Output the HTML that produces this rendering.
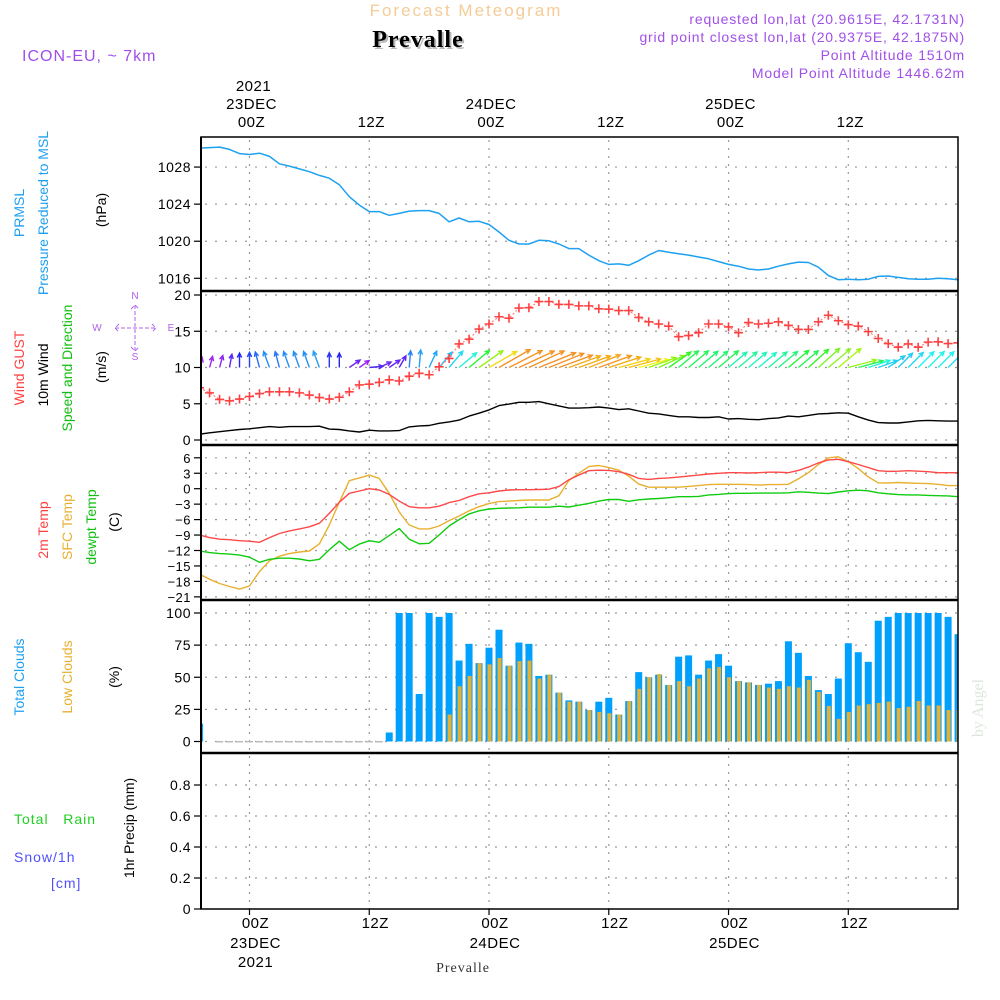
<!DOCTYPE html>
<html><head><meta charset="utf-8">
<style>
html,body{margin:0;padding:0;background:#fff;width:1000px;height:1000px;overflow:hidden}
svg{display:block}
text{font-family:"Liberation Sans",sans-serif}
</style></head>
<body>
<svg id="chart" width="1000" height="1000" viewBox="0 0 1000 1000" xmlns="http://www.w3.org/2000/svg">
  <rect width="1000" height="1000" fill="#fff"/>
  <!-- header -->
  <text x="466" y="16" text-anchor="middle" font-size="17" fill="#f4cc98" letter-spacing="2">Forecast Meteogram</text>
  <text x="420" y="49" text-anchor="middle" font-size="24" font-weight="bold" fill="#b8b8b8" style="font-family:'Liberation Serif',serif" letter-spacing="1">Prevalle</text>
  <text x="418" y="47" text-anchor="middle" font-size="24" font-weight="bold" fill="#000" style="font-family:'Liberation Serif',serif" letter-spacing="1">Prevalle</text>
  <text x="22" y="61" font-size="16" fill="#a050e8" letter-spacing="1">ICON-EU, ~ 7km</text>
  <g font-size="14" fill="#a050e8" text-anchor="end" letter-spacing="0.8">
    <text x="965" y="24">requested lon,lat (20.9615E, 42.1731N)</text>
    <text x="965" y="42">grid point closest lon,lat (20.9375E, 42.1875N)</text>
    <text x="965" y="60">Point Altitude 1510m</text>
    <text x="965" y="78">Model Point Altitude 1446.62m</text>
  </g>
  <!-- left axis titles -->
  <g font-size="14">
    <text transform="translate(24,213) rotate(-90)" text-anchor="middle" fill="#1ea0f0">PRMSL</text>
    <text transform="translate(48,213) rotate(-90)" text-anchor="middle" fill="#1ea0f0">Pressure Reduced to MSL</text>
    <text transform="translate(106,210) rotate(-90)" text-anchor="middle" fill="#000">(hPa)</text>
    <text transform="translate(24,368) rotate(-90)" text-anchor="middle" fill="#ff4040">Wind GUST</text>
    <text transform="translate(48,375) rotate(-90)" text-anchor="middle" fill="#000">10m Wind</text>
    <text transform="translate(72,368) rotate(-90)" text-anchor="middle" fill="#10c010">Speed and Direction</text>
    <text transform="translate(106,367) rotate(-90)" text-anchor="middle" fill="#000">(m/s)</text>
    <text transform="translate(48,530) rotate(-90)" text-anchor="middle" fill="#ff4040">2m Temp</text>
    <text transform="translate(72,527) rotate(-90)" text-anchor="middle" fill="#e8b030">SFC Temp</text>
    <text transform="translate(96,527) rotate(-90)" text-anchor="middle" fill="#10c010">dewpt Temp</text>
    <text transform="translate(119,522) rotate(-90)" text-anchor="middle" fill="#000">(C)</text>
    <text transform="translate(24,677) rotate(-90)" text-anchor="middle" fill="#1ea0f0">Total Clouds</text>
    <text transform="translate(72,677) rotate(-90)" text-anchor="middle" fill="#e8b030">Low Clouds</text>
    <text transform="translate(119,677) rotate(-90)" text-anchor="middle" fill="#000">(%)</text>
    <text transform="translate(134,828) rotate(-90)" text-anchor="middle" fill="#000">1hr Precip (mm)</text>
  </g>
  <text x="14" y="824" font-size="14" fill="#20d020" letter-spacing="1" xml:space="preserve">Total   Rain</text>
  <text x="14" y="862" font-size="14" fill="#5050ff" letter-spacing="1">Snow/1h</text>
  <text x="51" y="888" font-size="14" fill="#5050ff" letter-spacing="1">[cm]</text>
  <!-- compass -->
  <g fill="#b060e8" stroke="#b060e8" font-size="10">
    <text x="135" y="299" text-anchor="middle" stroke="none">N</text>
    <text x="135" y="360" text-anchor="middle" stroke="none">S</text>
    <text x="97" y="331" text-anchor="middle" stroke="none">W</text>
    <text x="171" y="331" text-anchor="middle" stroke="none">E</text>
    <path d="M115 328 H156 M135 305 V351 M119 324 L115 328 L119 332 M152 324 L156 328 L152 332 M131 309 L135 305 L139 309 M131 347 L135 351 L139 347" fill="none" stroke-width="1" stroke-dasharray="4 2"/>
  </g>
  <text transform="translate(983,708) rotate(-90)" text-anchor="middle" font-size="16" fill="#dde6dd" style="font-family:'Liberation Serif',serif">by Angel</text>
  <text x="463" y="972" text-anchor="middle" font-size="14" fill="#333" style="font-family:'Liberation Serif',serif" letter-spacing="1">Prevalle</text>
  <g id="plot"></g>
</svg>
<script>
// ---- data (hourly, starting 22DEC 19Z = hour -5 relative to 23DEC 00Z) ----
const startHour = -5;
const pressure = [1030.05,1030.1,1030.15,1029.9,1029.45,1029.35,1029.5,1029.15,1028.35,1028.1,1027.8,1027.5,1027.1,1026.8,1026.1,1024.8,1023.9,1023.2,1023.2,1022.8,1023.0,1023.25,1023.3,1023.3,1023.0,1022.1,1022.5,1022.1,1022.15,1021.8,1021.0,1020.1,1019.7,1019.7,1020.1,1020.05,1019.7,1019.2,1019.2,1018.5,1017.9,1017.5,1017.55,1017.4,1017.9,1018.5,1019.0,1018.8,1018.65,1018.5,1018.3,1018.1,1017.8,1017.5,1017.3,1017.0,1016.9,1017.0,1017.3,1017.55,1017.75,1017.7,1017.2,1016.3,1015.85,1015.9,1015.85,1015.9,1016.2,1016.25,1016.1,1015.95,1015.9,1015.9,1016.0,1015.95,1015.85];
const gust = [7.2,6.5,5.6,5.4,5.65,6.0,6.4,6.65,6.65,6.65,6.5,6.2,5.85,5.65,5.9,6.65,7.6,7.7,7.95,8.3,8.15,8.8,9.2,9.0,10.1,11.25,13.25,13.9,15.3,16.0,17.0,16.8,18.2,18.25,19.1,19.1,18.7,18.7,18.5,18.5,18.1,18.05,17.85,17.85,16.9,16.3,16.0,15.7,14.25,14.4,14.8,16.0,16.0,15.6,14.8,16.2,16.0,16.1,16.3,15.8,15.25,15.25,16.3,17.2,16.45,15.9,15.7,14.95,14.0,13.3,12.8,13.25,12.8,13.5,13.55,13.3,13.4];
const wind10 = [0.8,1.0,1.15,1.3,1.45,1.55,1.7,1.85,1.75,1.85,1.85,1.85,1.9,1.5,1.45,1.25,1.1,1.35,1.25,1.25,1.3,1.8,1.95,2.0,2.3,2.5,2.75,3.3,3.7,4.15,4.75,4.95,5.2,5.2,5.3,5.0,4.7,4.4,4.4,4.45,4.55,4.4,4.2,4.3,4.0,3.7,3.6,3.4,3.2,3.2,3.1,3.1,3.2,2.9,2.95,2.85,2.8,2.95,3.05,3.3,3.2,3.4,3.6,3.65,3.75,3.7,3.2,2.75,2.4,2.35,2.35,2.5,2.65,2.7,2.65,2.6,2.6];
const windDir = [75,75,75,80,90,90,105,110,105,110,110,110,110,90,90,35,35,5,25,35,60,85,85,65,50,50,40,40,35,30,30,27,25,25,22,22,20,20,20,22,20,18,15,15,15,20,25,35,40,40,40,40,40,40,40,40,40,40,40,40,40,42,42,40,40,15,15,18,20,35,45,45,45,45,45,45,45,45];
const temp2m = [-9.0,-9.5,-9.8,-9.9,-10.1,-10.2,-10.4,-9.5,-8.7,-8.2,-7.8,-7.4,-6.7,-4.8,-2.65,-0.9,-0.45,0,-0.25,-1.1,-2.4,-3.5,-3.7,-3.7,-3.4,-2.7,-2.3,-1.55,-1.0,-0.8,-0.45,-0.25,-0.2,-0.2,-0.15,-0.1,0.4,1.75,2.65,3.5,3.6,3.55,3.3,2.8,2.0,1.8,2.0,2.1,2.25,2.45,2.65,2.85,3.0,3.1,3.1,3.05,3.1,3.2,3.2,3.1,3.55,4.2,5.0,5.6,5.7,5.25,4.7,4.1,3.5,3.35,3.4,3.5,3.4,3.3,3.1,3.1,3.1];
const tempSfc = [-16.6,-17.6,-18.4,-19.0,-19.5,-18.9,-16.1,-14.0,-13.1,-12.6,-12.3,-12.1,-10.7,-7.05,-2.65,1.55,2.1,2.65,2.0,-0.9,-4.5,-7.05,-7.8,-7.8,-7.25,-6.2,-5.3,-4.3,-3.5,-2.9,-2.5,-2.4,-2.3,-2.2,-2.2,-2.2,-1.35,1.6,3.0,4.3,4.5,4.1,3.6,2.45,0.9,0.3,0.3,0.3,0.3,0.45,0.6,0.8,0.85,0.85,0.85,0.8,0.7,0.8,0.8,0.85,1.9,3.1,4.7,6.0,6.2,5.25,3.9,2.3,1.15,1.1,1.2,1.1,1.05,1.0,0.85,0.6,0.6];
const dewpt = [-12.1,-12.4,-12.6,-12.7,-12.9,-13.3,-14.3,-13.7,-13.5,-13.5,-13.65,-14.0,-13.7,-11.85,-10.2,-11.85,-10.75,-10.1,-10.4,-9.1,-7.75,-9.8,-10.7,-10.6,-9.0,-7.25,-6.0,-4.9,-4.3,-3.95,-3.8,-3.75,-3.7,-3.6,-3.6,-3.6,-3.4,-3.55,-3.2,-2.85,-2.4,-2.1,-2.1,-2.45,-2.15,-2.0,-1.9,-1.75,-1.55,-1.55,-1.5,-1.2,-1.1,-0.95,-0.9,-0.9,-0.85,-0.85,-0.85,-0.8,-0.6,-0.7,-0.85,-0.95,-0.65,-0.4,-0.3,-0.4,-0.8,-1.0,-1.15,-1.2,-1.2,-1.3,-1.35,-1.4,-1.55];
const totalClouds = [14,0,0,0,0,0,0,0,0,0,0,0,0,0,0,0,0,0,0,7,100,100,37,100,97,100,63,76,61,73,87,59,77,76,51,52,38,32,31,24.5,31,34,21,31.5,54,50,52,44,66,67,52,63,68,59,47,46,44,45,47,78,69,51,40,37,49,76.5,69.5,62,94,97,100,100,100,100,100,97,83.5];
const lowClouds = [14,0,0,0,0,0,0,0,0,0,0,0,0,0,0,0,0,0,0,0,0,0,0,0,0,21,43,51,61,60,65,59,62.5,63,49,52,38,31,31,24.5,23,22,21,31.5,41,50,52.5,44,47,43,49,57,58,50,47,46,44,42,41,43,42,48,38.5,27.6,17.6,23,28,29,30,31,26,27,31.5,28,28,24.5,24.5];
const pressureTicks = [1016,1020,1024,1028];
const windTicks = [0,5,10,15,20];
const tempTicks = [6,3,0,-3,-6,-9,-12,-15,-18,-21];
const cloudTicks = [0,25,50,75,100];
const precipTicks = [0,0.2,0.4,0.6,0.8];
const timeTicks = [0,12,24,36,48,60];
const timeLabels = ["00Z","12Z","00Z","12Z","00Z","12Z"];
const dayLabels = ["23DEC","","24DEC","","25DEC",""];

// ---- scales ----
const L = 201, R = 958;
const P = {pres:[137,291],wind:[291,445],temp:[445,600],cloud:[600,753],precip:[753,909]};
const xh = h => 249.5 + 9.98*h;
const yPres = v => 278.3 - (v-1016)*9.27;
const yWind = v => 440 - v*7.25;
const yTemp = v => 488.7 - v*5.15;
const yCloud = v => 741.5 - v*1.285;
const yPrecip = v => 909 - v*155;
const NS = "http://www.w3.org/2000/svg";
const plot = document.getElementById('plot');
function mk(tag, attrs, parent){ const e=document.createElementNS(NS,tag); for(const k in attrs) e.setAttribute(k,attrs[k]); (parent||plot).appendChild(e); return e; }

// clip
const defs = mk('defs',{});
const cp = mk('clipPath',{id:'cp'},defs); mk('rect',{x:L,y:137,width:R-L,height:772},cp);

// grids
const grid = mk('g',{stroke:'#999','stroke-width':1.2,'stroke-dasharray':'2 8'});


function hgrid(ys, pr){ ys.forEach(y=>{ if(y>pr[0]+2&&y<pr[1]-1){ const l=mk('line',{x1:L+4,x2:R,y1:y,y2:y},grid);   } }); }
hgrid(pressureTicks.map(yPres),P.pres);
hgrid(windTicks.map(yWind),P.wind);
hgrid(tempTicks.map(yTemp),P.temp);
hgrid(cloudTicks.map(yCloud),P.cloud);
hgrid(precipTicks.map(yPrecip),P.precip);
timeTicks.forEach(h=>{ const l=mk('line',{x1:xh(h),x2:xh(h),y1:140,y2:909,'stroke-dasharray':'2 6'},grid);
  
   });

const g = mk('g',{'clip-path':'url(#cp)'});
function line(vals, yf, color, name, w){
  const pts = vals.map((v,i)=>xh(startHour+i).toFixed(1)+','+yf(v).toFixed(1)).join(' ');
  const e = mk('polyline',{points:pts,fill:'none',stroke:color,'stroke-width':w||1.4,'stroke-linejoin':'round'},g);
  
  
  return e;
}
// pressure
line(pressure,yPres,'#1ea0f0','pressure-line',1.5);

// clouds
totalClouds.forEach((v,i)=>{
  const x = xh(startHour+i);
  if(v<=0){ if(i>1){ const z=mk('rect',{x:x-3.5,y:yCloud(0)-0.5,width:7,height:1.5,fill:'#bbb'},g);
      
       } return; }
  const b = mk('rect',{x:x-3.5,y:yCloud(v),width:7,height:yCloud(0)-yCloud(v),fill:'#00a0ff'},g);
  
  
});
lowClouds.forEach((v,i)=>{
  if(v<=0) return;
  const x = xh(startHour+i);
  const b = mk('rect',{x:x-1.5,y:yCloud(v),width:4,height:yCloud(0)-yCloud(v),fill:'#e8b030'},g);
  
  
});

// temps
line(tempSfc,yTemp,'#e8b030','sfc-temp-line',1.4);
line(temp2m,yTemp,'#ff4848','t2m-line',1.4);
line(dewpt,yTemp,'#10cc10','dewpt-line',1.4);

// wind
line(wind10,yWind,'#000','wind10-line',1.4);
function windColor(s){
  const stops=[[1.1,275],[1.5,235],[1.9,205],[2.6,185],[3.3,125],[3.9,65],[4.6,32]];
  let hue=stops[0][1];
  if(s>=stops[stops.length-1][0]) hue=stops[stops.length-1][1];
  else for(let i=0;i<stops.length-1;i++){ if(s>=stops[i][0]&&s<stops[i+1][0]){ const t=(s-stops[i][0])/(stops[i+1][0]-stops[i][0]); hue=stops[i][1]+t*(stops[i+1][1]-stops[i][1]); } }
  const light = hue>40&&hue<90 ? 52 : 55;
  return 'hsl('+hue.toFixed(0)+',90%,'+light+'%)';
}
windDir.forEach((d,i)=>{
  const s = wind10[i]; const x0 = xh(startHour+i), y0 = yWind(10);
  const len = 5 + 6.5*s, a = d*Math.PI/180;
  const x1 = x0 + len*Math.cos(a), y1 = y0 - len*Math.sin(a);
  const hl=5, ha=0.45;
  const bx = Math.cos(a+Math.PI), by = -Math.sin(a+Math.PI);
  const ang = Math.atan2(by,bx);
  const p1x = x1+hl*Math.cos(ang+ha), p1y=y1+hl*Math.sin(ang+ha);
  const p2x = x1+hl*Math.cos(ang-ha), p2y=y1+hl*Math.sin(ang-ha);
  const e = mk('path',{d:`M${x0.toFixed(1)} ${y0.toFixed(1)} L${x1.toFixed(1)} ${y1.toFixed(1)} M${p1x.toFixed(1)} ${p1y.toFixed(1)} L${x1.toFixed(1)} ${y1.toFixed(1)} L${p2x.toFixed(1)} ${p2y.toFixed(1)}`,fill:'none',stroke:windColor(s),'stroke-width':1.4},g);
  
  
});
line(gust,yWind,'#ff7070','gust-line',1).setAttribute('stroke-dasharray','2 2');
gust.forEach((v,i)=>{
  const x=xh(startHour+i), y=yWind(v);
  const e = mk('path',{d:`M${x-4.5} ${y} H${x+4.5} M${x} ${y-4.5} V${y+4.5}`,stroke:'#ff4040','stroke-width':1.6,fill:'none'},g);
  
  
});

// frame
const fr = mk('g',{stroke:'#000',fill:'none'});


mk('rect',{x:L,y:137,width:R-L,height:772,'stroke-width':1.5},fr);
[291,445,600,753].forEach(y=>mk('line',{x1:L,x2:R,y1:y,y2:y,'stroke-width':2.5},fr));
mk('line',{x1:L,x2:L,y1:137,y2:909,'stroke-width':2},fr);

// y tick labels
const tl = mk('g',{'font-size':14,fill:'#000','text-anchor':'end'});
function yticks(vals, yf, name, fmt, fs){
  vals.forEach(v=>{
    const y=yf(v);
    const t = mk('line',{x1:L-7,x2:L,y1:y,y2:y,stroke:'#000','stroke-width':1.2},tl);
    
    
    const s = mk('text',{x:L-10,y:y+5,'font-size':fs||14,'letter-spacing':0.5},tl);
    s.textContent = fmt? fmt(v): String(v);
    
    
  });
}
yticks(pressureTicks,yPres,'pressure');
yticks(windTicks,yWind,'wind');
yticks(tempTicks,yTemp,'temp',v=>v<0?'\u2212'+Math.abs(v):String(v),13);
yticks(cloudTicks,yCloud,'cloud');
yticks(precipTicks,yPrecip,'precip',v=>v===0?'0':v.toFixed(1));

// x labels top & bottom
const xl = mk('g',{'font-size':15,fill:'#000','text-anchor':'middle','letter-spacing':0.5});
timeTicks.forEach((h,i)=>{
  const x=xh(h);
  let t=mk('text',{x:x+2,y:127},xl); t.textContent=timeLabels[i];
  
  
  if(dayLabels[i]){ t=mk('text',{x:x+2,y:109},xl); t.textContent=dayLabels[i];
    
     }
  t=mk('text',{x:x+6,y:928},xl); t.textContent=timeLabels[i];
  
  
  if(dayLabels[i]){ t=mk('text',{x:x+6,y:948},xl); t.textContent=dayLabels[i];
    
     }
  const tk=mk('line',{x1:x,x2:x,y1:909,y2:915,stroke:'#000','stroke-width':1.2},xl);
  
  
});
let yr=mk('text',{x:xh(0)+4,y:91},xl); yr.textContent='2021';


yr=mk('text',{x:xh(0)+6,y:967},xl); yr.textContent='2021';


</script>
</body></html>
